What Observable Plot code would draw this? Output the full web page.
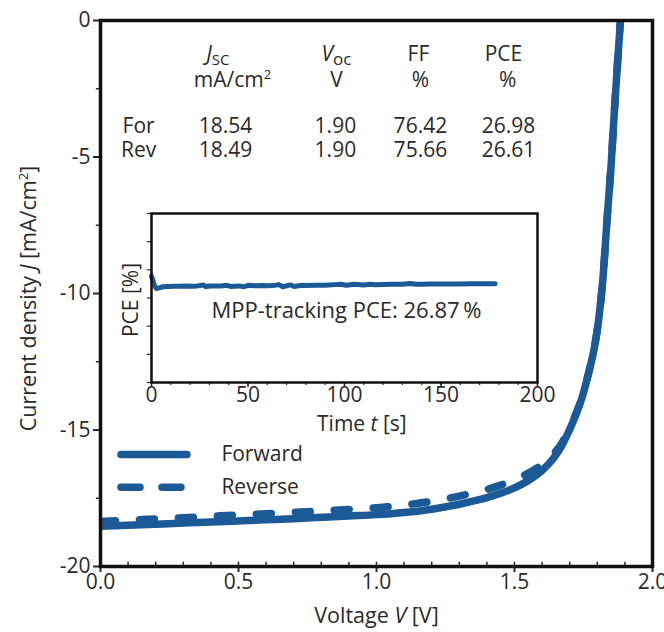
<!DOCTYPE html>
<html><head><meta charset="utf-8">
<script src="https://cdn.jsdelivr.net/npm/d3@7"></script>
<script src="https://cdn.jsdelivr.net/npm/@observablehq/plot@0.6"></script>
<style>
body{margin:0;background:#fff;}
#wrap{position:relative;width:664px;height:632px;}
#inset{position:absolute;left:100px;top:185px;}
</style></head><body><div id="wrap"><div id="main"></div><div id="inset"></div></div>
<script>
// ---- data ----
const voltage = [0, 0.1, 0.2, 0.3, 0.4, 0.5, 0.6, 0.7, 0.8, 0.9, 1.0, 1.1, 1.2, 1.3, 1.4, 1.45, 1.5, 1.55, 1.6, 1.64, 1.67, 1.69, 1.72, 1.745, 1.77, 1.79, 1.805, 1.82, 1.836, 1.85, 1.862, 1.873, 1.886];
const jForward = [-18.53, -18.49, -18.45, -18.41, -18.37, -18.33, -18.29, -18.25, -18.2, -18.15, -18.1, -18.02, -17.9, -17.72, -17.48, -17.32, -17.12, -16.85, -16.48, -16.05, -15.6, -15.2, -14.5, -13.8, -12.85, -11.95, -10.95, -9.5, -7.2, -5.3, -3.3, -1.6, 0.3];
const jReverse = [-18.35, -18.30, -18.26, -18.21, -18.16, -18.11, -18.07, -18.02, -17.96, -17.91, -17.85, -17.75, -17.61, -17.42, -17.18, -17.02, -16.82, -16.58, -16.26, -15.89, -15.5, -15.14, -14.47, -13.79, -12.85, -11.95, -10.95, -9.5, -7.2, -5.3, -3.3, -1.6, 0.3];

const timeS = [0, 0.6, 1.5, 2.5, 4, 6, 9, 12, 15, 18, 21, 24, 27, 28, 30, 33, 36, 39, 41, 45, 48, 50, 54, 57, 60, 63, 66, 68, 72, 74, 78, 81, 84, 87, 90, 95, 98, 101, 105, 110, 113, 116, 120, 125, 130, 134, 137, 140, 145, 150, 155, 160, 165, 170, 175, 178];
const pceTrack = [27.55, 27.3, 26.9, 26.68, 26.72, 26.8, 26.82, 26.84, 26.83, 26.85, 26.84, 26.86, 26.92, 26.8, 26.85, 26.86, 26.85, 26.9, 26.82, 26.86, 26.8, 26.9, 26.87, 26.88, 26.87, 26.88, 26.95, 26.8, 26.93, 26.82, 26.9, 26.89, 26.9, 26.91, 26.9, 26.95, 26.98, 26.9, 26.97, 26.93, 26.98, 26.94, 26.96, 26.97, 26.97, 27.03, 26.97, 26.98, 26.99, 26.99, 27.0, 27.0, 27.01, 27.01, 27.02, 27.02];

const headerTop = ["Jsc", "Voc", "FF", "PCE"];
const headerUnits = ["mA/cm2", "V", "%", "%"];
const rowLabels = ["For", "Rev"];
const jscVals = [18.54, 18.49];
const vocVals = [1.90, 1.90];
const ffVals = [76.42, 75.66];
const pceVals = [26.98, 26.61];
const mppLabel = "MPP-tracking PCE: 26.87\u2009%";
const legendNames = ["Forward", "Reverse"];

const xTicks = [0, 0.5, 1.0, 1.5, 2.0];
const yTicks = [0, -5, -10, -15, -20];
const yMinor = [-2.5, -7.5, -12.5, -17.5];
const insetXTicks = [0, 50, 100, 150, 200];

// ---- layout constants ----
const blue = "#1b5a97";
const ink = "#2a2a2a";
const font = "'Open Sans', sans-serif";
const fs = 21;
const headerTopX = [0.425, 0.855, 1.152, 1.46];
const headerUnitX = [0.478, 0.855, 1.159, 1.475];
const colX = [0.138, 0.453, 0.851, 1.159, 1.478];
const rowY = [-3.88, -4.76];

const curveF = voltage.map((v, i) => ({v, j: jForward[i]}));
const curveR = voltage.map((v, i) => ({v, j: jReverse[i]}));
const f2 = d3.format(".2f");
const cells = [];
rowLabels.forEach((r, i) => {
  [r, f2(jscVals[i]), f2(vocVals[i]), f2(ffVals[i]), f2(pceVals[i])].forEach((t, c) => cells.push({t, x: colX[c], y: rowY[i]}));
});

const main = Plot.plot({
  width: 664, height: 632,
  marginLeft: 100, marginRight: 12, marginTop: 20, marginBottom: 66,
  style: {fontFamily: font, fontSize: fs + "px", color: ink, background: "white", overflow: "visible"},
  x: {domain: [0, 2]},
  y: {domain: [-20, 0]},
  marks: [
    Plot.axisX(xTicks, {tickSize: 6, tickPadding: 2, tickFormat: d3.format(".1f"), label: null, fontSize: fs, strokeWidth: 2}),
    Plot.ruleX(d3.range(1, 20).map(d => d / 10), {y1: -20, y2: -19.84, stroke: ink, strokeWidth: 1.5}),
    Plot.axisY(yTicks, {tickSize: 7, tickPadding: 3, tickFormat: d => String(d), label: null, fontSize: fs, strokeWidth: 2}),
    Plot.ruleY(yMinor, {x1: -0.015, x2: 0, stroke: ink, strokeWidth: 1.5}),
    Plot.line(curveF, {x: "v", y: "j", stroke: blue, strokeWidth: 7.5, curve: "monotone-x", clip: true}),
    Plot.line(curveR, {x: "v", y: "j", stroke: blue, strokeWidth: 7.5, curve: "monotone-x", strokeDasharray: "15,24", strokeLinecap: "round", clip: true}),
    Plot.frame({stroke: "#111", strokeWidth: 3.5}),
    Plot.text(headerTop, {x: (d, i) => headerTopX[i], y: -1.23, fontSize: fs, fill: ink}),
    Plot.text(headerUnits, {x: (d, i) => headerUnitX[i], y: -2.2, fontSize: fs, fill: ink}),
    Plot.text(cells, {x: "x", y: "y", text: "t", fontSize: fs, fill: ink}),
    Plot.ruleY([-15.9], {x1: 0.076, x2: 0.315, stroke: blue, strokeWidth: 7.5, strokeLinecap: "round"}),
    Plot.ruleY([-17.1], {x1: 0.076, x2: 0.295, stroke: blue, strokeWidth: 7.5, strokeLinecap: "round", strokeDasharray: "19,22"}),
    Plot.text(legendNames, {x: 0.438, y: (d, i) => [-15.9, -17.1][i], textAnchor: "start", fontSize: fs, fill: ink}),
    Plot.text(["Voltage V [V]"], {frameAnchor: "bottom", dy: 56, fontSize: 21.5, fill: ink}),
    Plot.text(["Current density J [mA/cm2]"], {frameAnchor: "left", textAnchor: "middle", rotate: -90, dx: -71, dy: 5, fontSize: 21.5, fill: ink})
  ]
});
document.getElementById("main").append(main);

const inset = Plot.plot({
  width: 460, height: 260,
  marginLeft: 51, marginRight: 23, marginTop: 28, marginBottom: 63,
  style: {fontFamily: font, fontSize: fs + "px", color: ink, background: "transparent", overflow: "visible"},
  x: {domain: [0, 200]},
  y: {domain: [20, 32], axis: null},
  marks: [
    Plot.ruleX(d3.range(0, 201, 10), {y1: 19.78, y2: 20, stroke: ink, strokeWidth: 1.2}),
    Plot.axisX(insetXTicks, {tickSize: 5, tickPadding: 0, label: null, fontSize: fs, strokeWidth: 1.5}),
    Plot.ruleY(d3.range(20, 33, 2), {x1: -2.2, x2: 0, stroke: ink, strokeWidth: 1.2}),
    Plot.line(timeS.map((t, i) => ({t, p: pceTrack[i]})), {x: "t", y: "p", stroke: blue, strokeWidth: 5, strokeLinejoin: "round"}),
    Plot.frame({stroke: "#111", strokeWidth: 2.5}),
    Plot.text([mppLabel], {x: 101, y: 25.1, fontSize: 22, fill: ink}),
    Plot.text(["Time t [s]"], {x: 109, frameAnchor: "bottom", dy: 48, fontSize: fs, fill: ink}),
    Plot.text(["PCE [%]"], {frameAnchor: "left", textAnchor: "middle", rotate: -90, dx: -20, dy: 2, fontSize: fs, fill: ink})
  ]
});
document.getElementById("inset").append(inset);

// ---- rich text (italics, sub/superscripts) ----
const specs = {
  "Current density J [mA/cm2]": [{t: "Current density "}, {t: "J", i: 1}, {t: " [mA/cm"}, {t: "2", fs: 13, dy: -8}, {t: "]", dy: 8}],
  "Voltage V [V]": [{t: "Voltage "}, {t: "V", i: 1}, {t: " [V]"}],
  "Time t [s]": [{t: "Time "}, {t: "t", i: 1}, {t: " [s]"}],
  "Jsc": [{t: "J", i: 1}, {t: "SC", fs: 15, dy: 4}],
  "Voc": [{t: "V", i: 1}, {t: "oc", fs: 17, dy: 4}],
  "mA/cm2": [{t: "mA/cm"}, {t: "2", fs: 13, dy: -8}]
};
for (const svg of [main, inset]) {
  d3.select(svg).selectAll("text").each(function () {
    const s = specs[this.textContent];
    if (!s) return;
    const el = d3.select(this);
    el.text(null);
    for (const seg of s) {
      const t = el.append("tspan").text(seg.t);
      if (seg.i) t.attr("font-style", "italic");
      if (seg.fs) t.attr("font-size", seg.fs);
      if (seg.dy) t.attr("dy", seg.dy);
    }
  });
}
</script>
</body></html>
